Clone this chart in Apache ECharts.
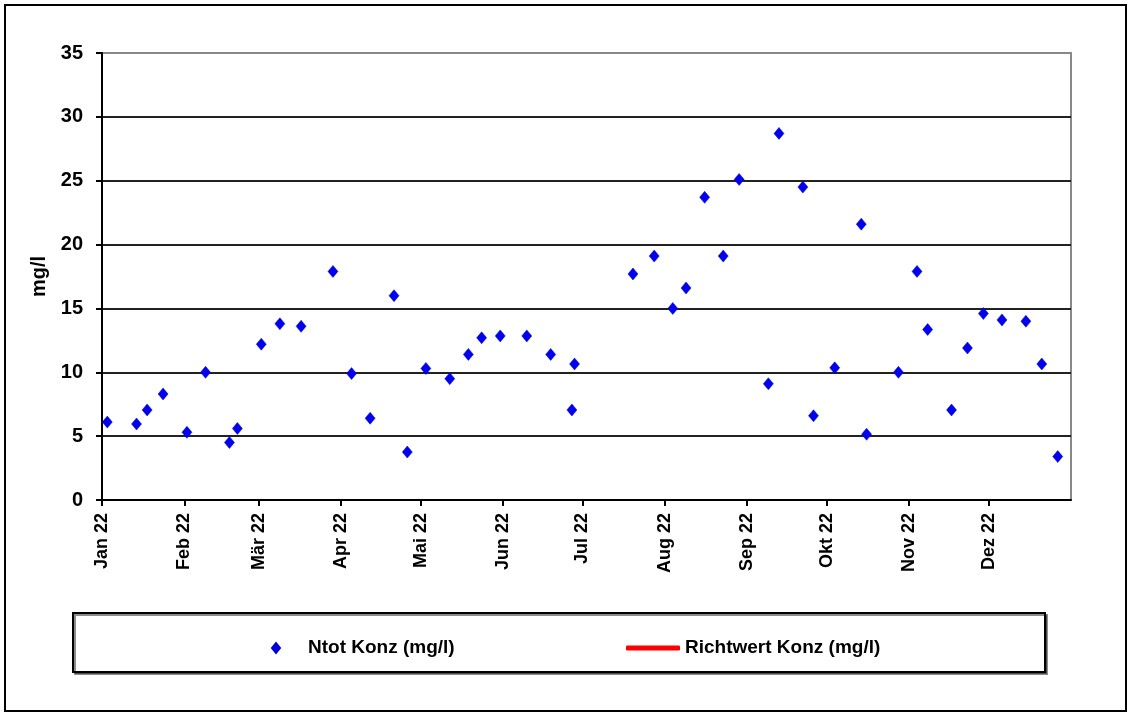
<!DOCTYPE html>
<html>
<head>
<meta charset="utf-8">
<script src="https://cdn.jsdelivr.net/npm/echarts@6/dist/echarts.min.js"></script>
<style>html,body{margin:0;padding:0;background:#fff}#c{width:1131px;height:716px}</style>
</head>
<body>
<div id="c"></div>
<script>
const monthNames = ['Jan','Feb','Mär','Apr','Mai','Jun','Jul','Aug','Sep','Okt','Nov','Dez'];
const sampleDates = ['2022-01-03','2022-01-14','2022-01-18','2022-01-24','2022-02-02','2022-02-09','2022-02-18','2022-02-21','2022-03-02','2022-03-09','2022-03-17','2022-03-29','2022-04-05','2022-04-12','2022-04-21','2022-04-26','2022-05-03','2022-05-12','2022-05-19','2022-05-24','2022-05-31','2022-06-10','2022-06-19','2022-06-27','2022-06-28','2022-07-20','2022-07-28','2022-08-04','2022-08-09','2022-08-16','2022-08-23','2022-08-29','2022-09-09','2022-09-13','2022-09-22','2022-09-26','2022-10-04','2022-10-14','2022-10-16','2022-10-28','2022-11-04','2022-11-08','2022-11-17','2022-11-23','2022-11-29','2022-12-06','2022-12-15','2022-12-21','2022-12-27'];
const ntotValues = [6.1,5.95,7.05,8.3,5.3,10.0,4.5,5.6,12.2,13.8,13.6,17.9,9.9,6.4,16.0,3.75,10.3,9.5,11.4,12.7,12.85,12.85,11.4,7.05,10.65,17.7,19.1,15.0,16.6,23.7,19.1,25.1,9.1,28.7,24.5,6.6,10.35,21.6,5.15,10.0,17.9,13.35,7.05,11.9,14.6,14.1,14.0,10.65,3.4];
const richtwertValues = [];
const seriesNames = ['Ntot Konz (mg/l)', 'Richtwert Konz (mg/l)'];
const yAxisTitle = 'mg/l';

const ntotData = sampleDates.map((d, i) => [d, ntotValues[i]]);
const FONT = '"Liberation Sans", Arial, sans-serif';

const chart = echarts.init(document.getElementById('c'), null, {renderer: 'canvas'});
chart.setOption({
  animation: false,
  backgroundColor: '#fff',
  graphic: [
    {type: 'rect', shape: {x: 5, y: 5, width: 1121, height: 706}, style: {fill: 'none', stroke: '#000', lineWidth: 2}, z: -10},
    {type: 'rect', shape: {x: 73, y: 613, width: 972, height: 59}, style: {fill: '#fff', stroke: '#000', lineWidth: 2, shadowColor: 'rgba(0,0,0,0.45)', shadowOffsetX: 2, shadowOffsetY: 2, shadowBlur: 0}, z: -5}
  ],
  grid: {left: 102, right: 60, top: 53, bottom: 216, show: true, borderColor: '#888', borderWidth: 2, backgroundColor: 'transparent'},
  xAxis: {
    type: 'time',
    min: '2022-01-01',
    max: '2023-01-01',
    splitNumber: 12,
    minInterval: 28 * 86400000,
    maxInterval: 31 * 86400000,
    axisLine: {show: true, lineStyle: {color: '#000', width: 2}},
    axisTick: {show: true, length: 6, lineStyle: {color: '#000', width: 2}},
    splitLine: {show: false},
    axisLabel: {
      rotate: 90,
      margin: 13,
      color: '#000',
      fontFamily: FONT,
      fontWeight: 'bold',
      fontSize: 18,
      showMaxLabel: false,
      formatter: function (v) {
        const d = new Date(v);
        if (d.getFullYear() !== 2022) return '';
        return monthNames[d.getMonth()] + ' 22';
      }
    }
  },
  yAxis: {
    type: 'value',
    min: 0,
    max: 35,
    interval: 5,
    name: yAxisTitle,
    nameLocation: 'middle',
    nameRotate: 90,
    nameGap: 52,
    nameTextStyle: {color: '#000', fontFamily: FONT, fontWeight: 'bold', fontSize: 20, padding: [0, 0, 0, 0]},
    axisLine: {show: true, lineStyle: {color: '#000', width: 2}},
    axisTick: {show: true, length: 6, lineStyle: {color: '#000', width: 2}},
    splitLine: {show: true, showMaxLine: false, lineStyle: {color: '#222', width: 2}},
    axisLabel: {margin: 19, color: '#000', fontFamily: FONT, fontWeight: 'bold', fontSize: 20}
  },
  legend: [
    {
      data: [seriesNames[0]],
      left: 266, top: 632,
      icon: 'diamond', itemWidth: 8, itemHeight: 10,
      textStyle: {color: '#000', fontFamily: FONT, fontWeight: 'bold', fontSize: 19, lineHeight: 22, padding: [0, 0, 0, 23]},
      selectedMode: false
    },
    {
      data: [seriesNames[1]],
      left: 621, top: 632,
      icon: 'roundRect', itemWidth: 54, itemHeight: 5,
      itemStyle: {color: '#ff0000'},
      textStyle: {color: '#000', fontFamily: FONT, fontWeight: 'bold', fontSize: 19, lineHeight: 22},
      selectedMode: false
    }
  ],
  series: [
    {
      name: seriesNames[0],
      type: 'scatter',
      symbol: 'diamond',
      symbolSize: [10, 12],
      itemStyle: {color: '#0000ee', borderColor: '#0000cc', borderWidth: 0.5, opacity: 1},
      data: ntotData,
      z: 5
    },
    {
      name: seriesNames[1],
      type: 'line',
      showSymbol: false,
      color: '#ff0000',
      lineStyle: {color: '#ff0000', width: 4},
      data: richtwertValues
    }
  ]
});
</script>
</body>
</html>
